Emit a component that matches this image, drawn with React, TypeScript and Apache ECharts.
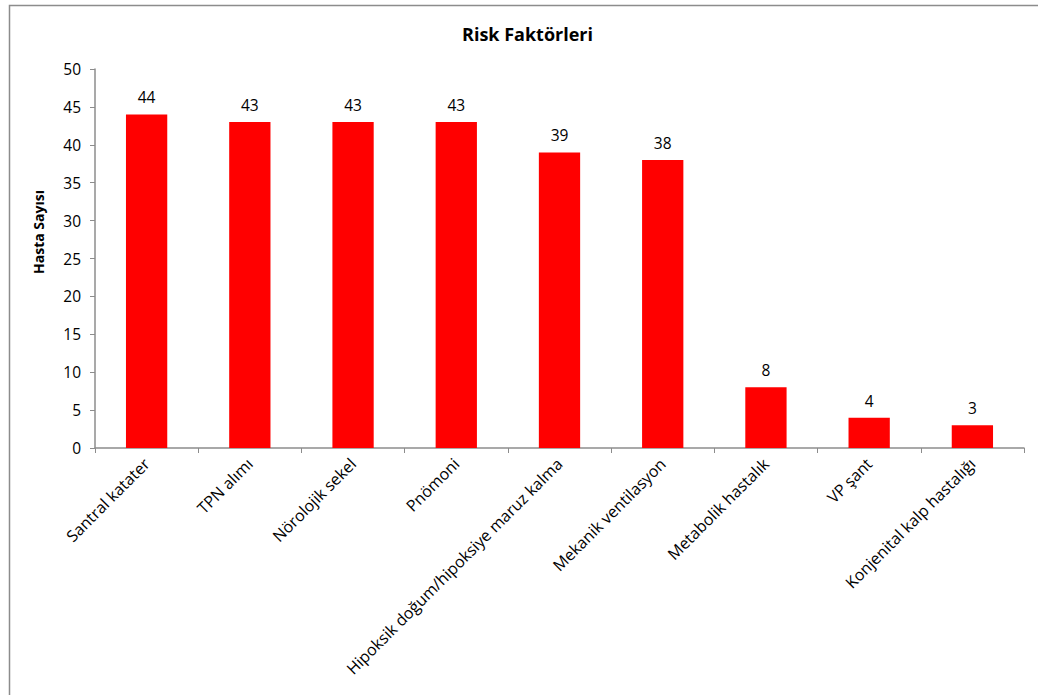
import React, { useEffect, useRef } from "react";
import * as echarts from "echarts";

const categories = [
  "Santral katater",
  "TPN alımı",
  "Nörolojik sekel",
  "Pnömoni",
  "Hipoksik doğum/hipoksiye maruz kalma",
  "Mekanik ventilasyon",
  "Metabolik hastalık",
  "VP şant",
  "Konjenital kalp hastalığı",
];
const values = [44, 43, 43, 43, 39, 38, 8, 4, 3];
const title = "Risk Faktörleri";
const yAxisName = "Hasta Sayısı";

const FONT = "'Open Sans', Lato, sans-serif";

export default function App() {
  const ref = useRef<HTMLDivElement>(null);
  useEffect(() => {
    if (!ref.current) return;
    const chart = echarts.init(ref.current, null, { renderer: "svg" });
    chart.setOption({
      animation: false,
      backgroundColor: "#ffffff",
      textStyle: { fontFamily: FONT },
      graphic: [
        {
          type: "rect",
          shape: { x: 9.5, y: 5.5, width: 1100, height: 800 },
          style: { fill: "none", stroke: "#8c8c8c", lineWidth: 1.5 },
          silent: true,
        },
        {
          type: "text",
          x: 527.5,
          y: 34,
          style: {
            text: title,
            fontFamily: FONT,
            fontWeight: "bold",
            fontSize: 18,
            fill: "#000",
            align: "center",
            verticalAlign: "middle",
          },
        },
        {
          type: "text",
          x: 38,
          y: 232,
          rotation: Math.PI / 2,
          style: {
            text: yAxisName,
            fontFamily: FONT,
            fontWeight: "bold",
            fontSize: 14,
            fill: "#000",
            align: "center",
            verticalAlign: "middle",
          },
        },
      ],
      grid: { left: 95, right: 14, top: 69, bottom: 247, containLabel: false },
      xAxis: {
        type: "category",
        data: categories,
        axisLine: { lineStyle: { color: "#8c8c8c", width: 1.5 } },
        axisTick: { show: true, length: 5, alignWithLabel: false, lineStyle: { color: "#8c8c8c" } },
        axisLabel: {
          rotate: 45,
          interval: 0,
          margin: 13,
          fontFamily: FONT,
          fontSize: 16,
          color: "#000",
        },
      },
      yAxis: {
        type: "value",
        min: 0,
        max: 50,
        interval: 5,
        splitLine: { show: false },
        axisLine: { show: true, lineStyle: { color: "#8c8c8c", width: 1.5 } },
        axisTick: { show: true, length: 5, lineStyle: { color: "#8c8c8c" } },
        axisLabel: { margin: 14, fontFamily: FONT, fontSize: 15.5, color: "#000" },
      },
      series: [
        {
          type: "bar",
          data: values,
          barWidth: "40%",
          itemStyle: { color: "#ff0000" },
          label: {
            show: true,
            position: "top",
            distance: 9,
            fontFamily: FONT,
            fontSize: 15.5,
            color: "#000",
          },
        },
      ],
    });
    return () => chart.dispose();
  }, []);
  return (
    <div
      ref={ref}
      style={{ position: "absolute", left: 0, top: 0, width: 1038, height: 695 }}
    />
  );
}
